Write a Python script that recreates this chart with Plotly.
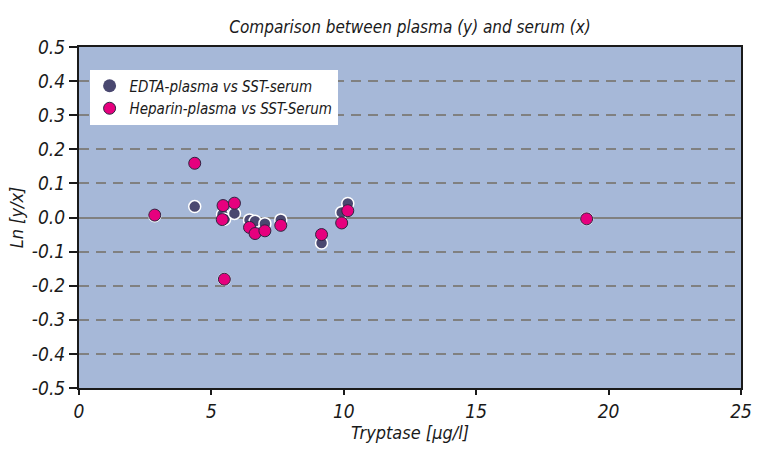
import plotly.graph_objects as go

# Data
edta_x = [2.86, 4.37, 5.42, 5.50, 5.87, 6.44, 6.65, 7.02, 7.62, 9.16, 9.92, 10.15, 5.49, 19.17]
edta_y = [0.005, 0.032, 0.009, -0.005, 0.012, -0.007, -0.011, -0.018, -0.007, -0.075, 0.015, 0.041, -0.181, -0.004]

hep_x = [2.86, 4.37, 5.44, 5.41, 5.87, 6.44, 6.65, 7.02, 7.62, 9.16, 9.92, 10.15, 5.49, 19.17]
hep_y = [0.007, 0.159, 0.035, -0.006, 0.042, -0.029, -0.047, -0.039, -0.023, -0.050, -0.016, 0.020, -0.181, -0.004]

series_names = ["EDTA-plasma vs SST-serum", "Heparin-plasma vs SST-Serum"]

x_ticks = [0, 5, 10, 15, 20, 25]
y_ticks = [0.5, 0.4, 0.3, 0.2, 0.1, 0.0, -0.1, -0.2, -0.3, -0.4, -0.5]
y_tick_labels = ["0.5", "0.4", "0.3", "0.2", "0.1", "0.0", "-0.1", "-0.2", "-0.3", "-0.4", "-0.5"]

FONT = "DejaVu Sans Condensed, Liberation Sans Narrow, sans-serif"
EDTA_COLOR = "#4a4870"
HEP_COLOR = "#e6007e"

fig = go.Figure()
fig.add_trace(go.Scatter(
    x=edta_x, y=edta_y, mode="markers", name=series_names[0], showlegend=False,
    marker=dict(size=12, color=EDTA_COLOR, line=dict(color="white", width=1.5)),
))
fig.add_trace(go.Scatter(
    x=hep_x, y=hep_y, mode="markers", name=series_names[1], showlegend=False,
    marker=dict(size=12, color=HEP_COLOR, line=dict(color="#2e2440", width=1)),
))
# legend entries (marker look as in the reference legend)
fig.add_trace(go.Scatter(
    x=[None], y=[None], mode="markers", name=series_names[0],
    marker=dict(size=13, color=EDTA_COLOR, line=dict(width=0)),
))
fig.add_trace(go.Scatter(
    x=[None], y=[None], mode="markers", name=series_names[1],
    marker=dict(size=12, color=HEP_COLOR, line=dict(color="#2e2440", width=1)),
))

fig.update_layout(
    width=763, height=449,
    margin=dict(l=79, r=11, t=47, b=54),
    paper_bgcolor="white",
    plot_bgcolor="#a6b8d8",
    font=dict(family=FONT, color="#1a1a1a", style="italic"),
    title=dict(text="Comparison between plasma (y) and serum (x)",
               x=0.5, xref="paper", xanchor="center", y=0.94, yanchor="middle",
               font=dict(size=17, family=FONT, style="italic", color="#1a1a1a")),
    showlegend=True,
    legend=dict(x=0.016, y=0.934, xanchor="left", yanchor="top",
                bgcolor="white", borderwidth=0,
                font=dict(size=15, family=FONT, style="italic", color="#1a1a1a"),
                tracegroupgap=0, itemwidth=30),
)
fig.update_xaxes(
    range=[0, 25], tickvals=x_ticks, showgrid=False, zeroline=False,
    showline=True, linecolor="#1a1a1a", linewidth=2, mirror=True,
    ticks="outside", ticklen=5, tickwidth=1.5, tickcolor="#1a1a1a",
    tickfont=dict(size=19, family=FONT, style="italic"),
    title=dict(text="Tryptase [µg/l]", standoff=4,
               font=dict(size=18, family=FONT, style="italic")),
)
fig.update_yaxes(
    range=[-0.5, 0.5], tickvals=y_ticks, ticktext=y_tick_labels,
    showgrid=True, gridcolor="#808080", gridwidth=2, griddash="10px,7px",
    zeroline=True, zerolinecolor="#808080", zerolinewidth=2,
    showline=True, linecolor="#1a1a1a", linewidth=2, mirror=True,
    ticks="outside", ticklen=8, tickwidth=1.5, tickcolor="#1a1a1a",
    tickfont=dict(size=19, family=FONT, style="italic"),
    title=dict(text="Ln [y/x]", standoff=4,
               font=dict(size=18, family=FONT, style="italic")),
)

fig.write_html("out.html")
